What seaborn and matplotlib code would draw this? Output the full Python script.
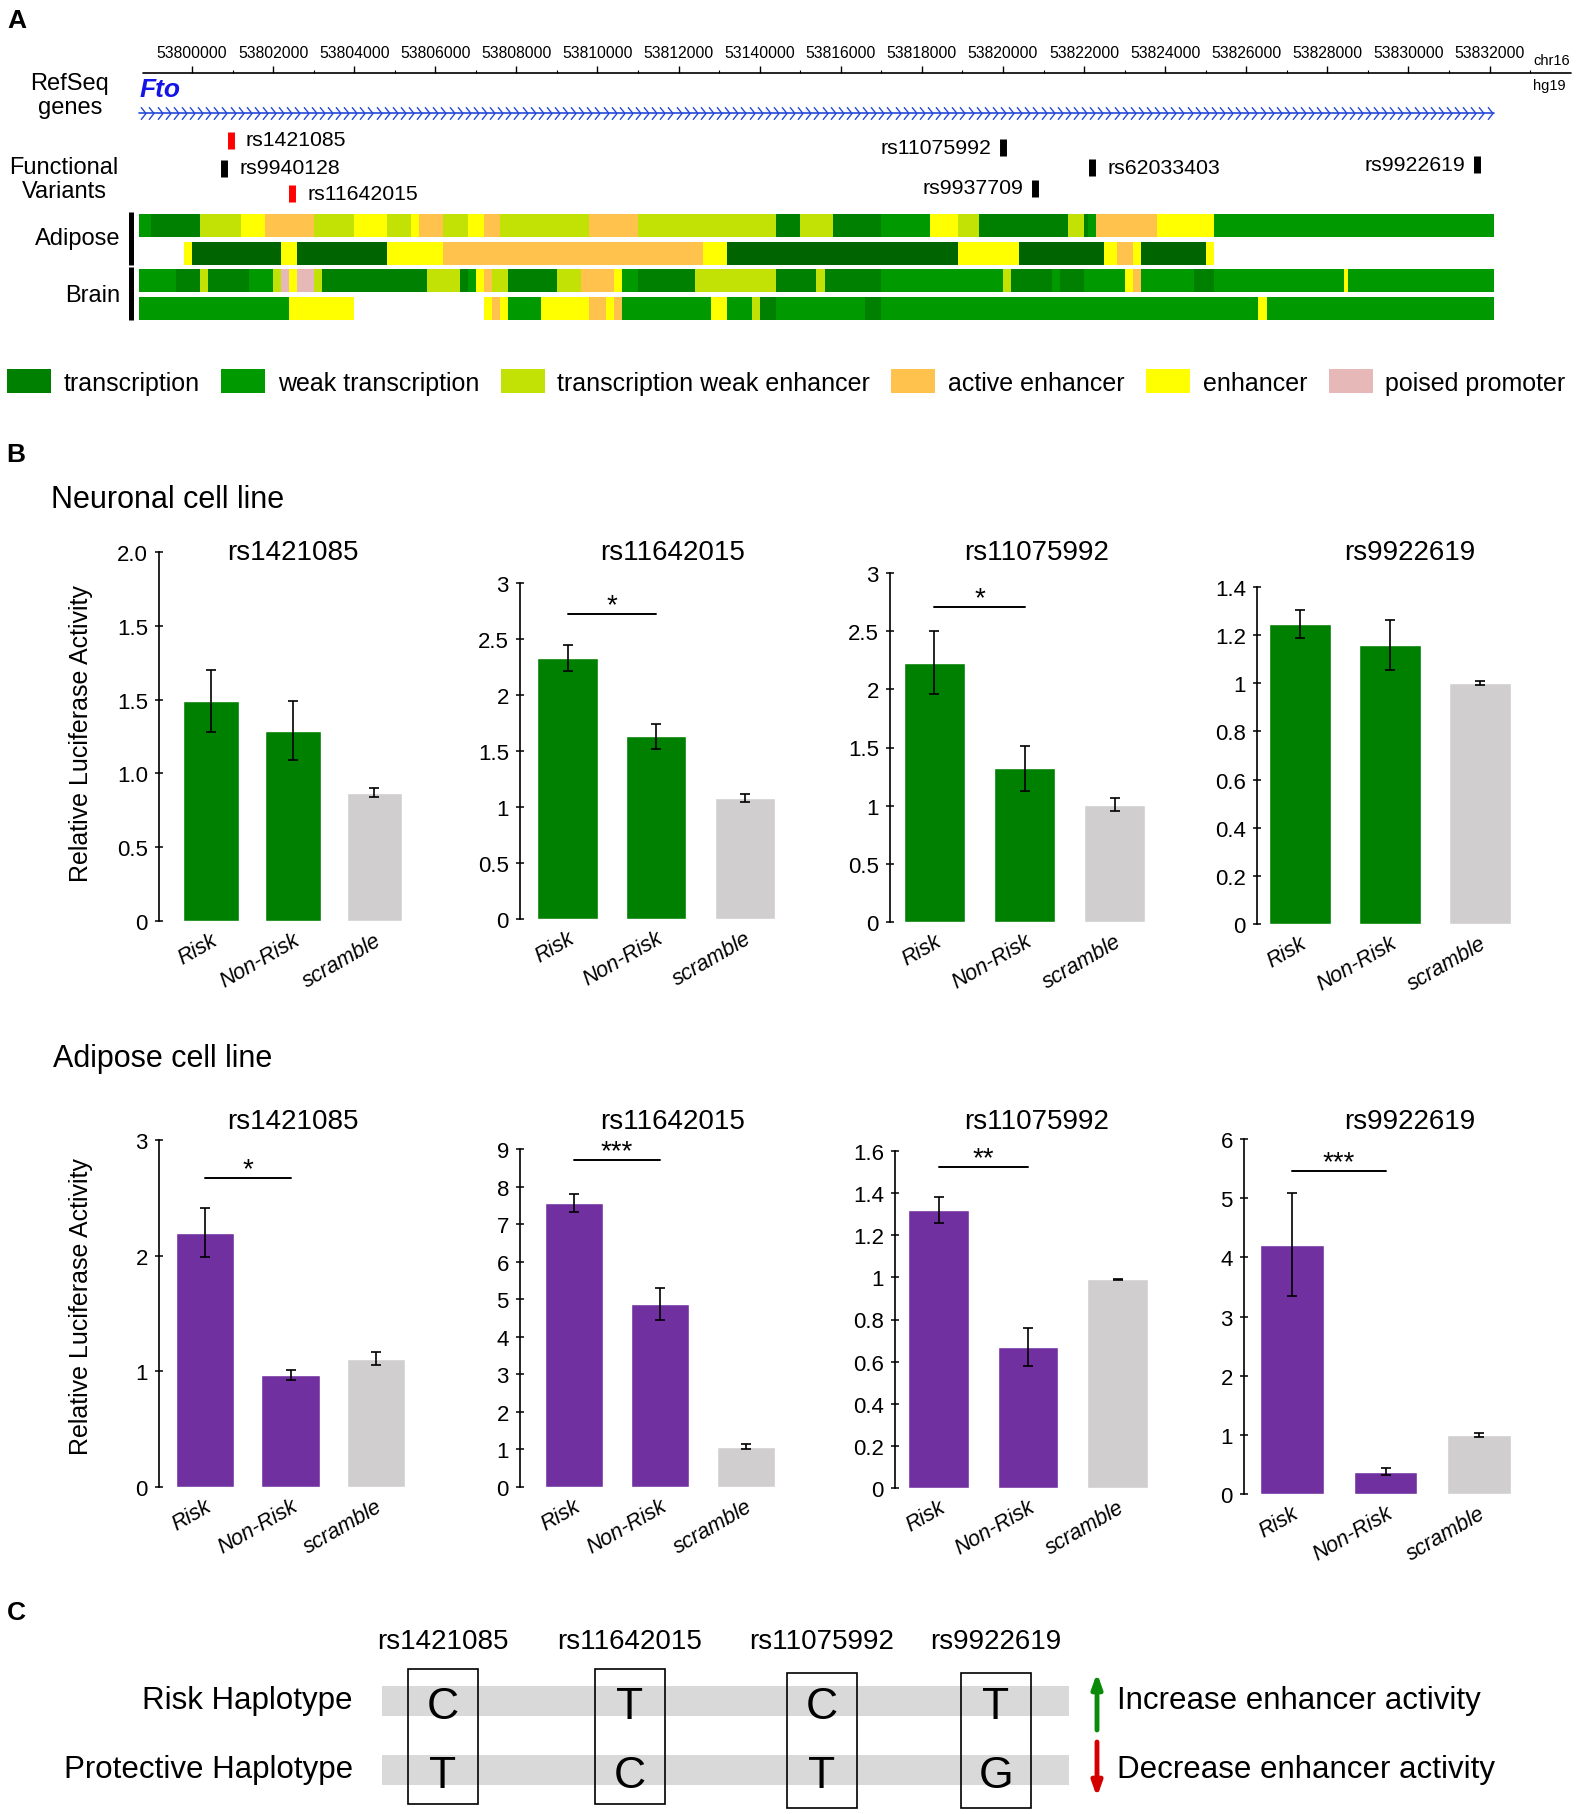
import numpy as np
import pandas as pd
import matplotlib
matplotlib.use("Agg")
import matplotlib.pyplot as plt
from matplotlib.patches import Patch, Rectangle
from matplotlib.path import Path
import seaborn as sns

W_PX, H_PX = 1593, 1815

# ---------------- Panel A data (positions in kb on chr16, hg19) ----------------
STATE_COLORS = {
    "T": "#008000",    # transcription
    "W": "#009900",    # weak transcription
    "TWE": "#C2E105",  # transcription weak enhancer
    "A": "#FFC34D",    # active enhancer
    "E": "#FFFF00",    # enhancer
    "P": "#E6B8B7",    # poised promoter
    "S": "#006400",    # strong transcription (darker shade in 2nd adipose track)
}
legend_states = ["T", "W", "TWE", "A", "E", "P"]
legend_labels = ["transcription", "weak transcription", "transcription weak enhancer",
                 "active enhancer", "enhancer", "poised promoter"]

ruler_major = list(range(53800, 53833, 2))
ruler_labels = ["53800000", "53802000", "53804000", "53806000", "53808000", "53810000",
                "53812000", "53140000", "53816000", "53818000", "53820000", "53822000",
                "53824000", "53826000", "53828000", "53830000", "53832000"]
ruler_minor = list(range(53801, 53834, 2))
ruler_span = [53798.8, 53834.0]
gene_span = [53798.7, 53832.1]

variant_names = ["rs1421085", "rs9940128", "rs11642015", "rs11075992",
                 "rs9937709", "rs62033403", "rs9922619"]
variant_pos = [53800.95, 53800.8, 53802.47, 53820.0, 53820.8, 53822.2, 53831.7]
variant_colors = ["#FF0000", "black", "#FF0000", "black", "black", "black", "black"]

adipose1_bounds = [53798.7, 53799.0, 53800.2, 53801.2, 53801.8, 53803.0, 53804.0, 53804.8,
                   53805.4, 53805.6, 53806.2, 53806.8, 53807.2, 53807.6, 53809.8, 53811.0,
                   53814.4, 53815.0, 53815.8, 53817.0, 53818.2, 53818.9, 53819.4, 53821.6,
                   53822.0, 53822.1, 53822.3, 53823.8, 53825.2, 53832.1]
adipose1_states = ["W", "T", "TWE", "E", "A", "TWE", "E", "TWE", "E", "A", "TWE", "E", "A",
                   "TWE", "A", "TWE", "T", "TWE", "T", "W", "E", "TWE", "T", "TWE", "T",
                   "W", "A", "E", "W"]

adipose2_bounds = [53799.8, 53800.0, 53802.2, 53802.6, 53804.8, 53806.2, 53812.6, 53813.2,
                   53818.9, 53820.4, 53822.5, 53822.8, 53823.2, 53823.4, 53825.0, 53825.2]
adipose2_states = ["E", "S", "E", "S", "E", "A", "E", "S", "E", "S", "E", "A", "E", "S", "E"]

brain1_bounds = [53798.7, 53799.6, 53800.2, 53800.4, 53801.4, 53802.0, 53802.2, 53802.4,
                 53802.6, 53803.0, 53803.2, 53805.8, 53806.6, 53806.8, 53807.0, 53807.2,
                 53807.4, 53807.8, 53809.0, 53809.6, 53810.4, 53810.6, 53811.0, 53812.4,
                 53814.4, 53815.4, 53815.6, 53817.0, 53820.0, 53820.2, 53821.2, 53821.4,
                 53822.0, 53823.0, 53823.2, 53823.4, 53824.7, 53825.2, 53828.4, 53828.5,
                 53832.1]
brain1_states = ["W", "T", "TWE", "T", "W", "TWE", "P", "E", "P", "TWE", "T", "TWE", "T", "W",
                 "E", "A", "TWE", "T", "TWE", "A", "E", "W", "T", "TWE", "T", "TWE", "T", "W",
                 "TWE", "T", "W", "T", "W", "E", "A", "W", "T", "W", "E", "W"]

brain2_bounds = [53798.7, 53802.4, 53804.0, 53807.2, 53807.4, 53807.6, 53807.8, 53808.6,
                 53809.8, 53810.2, 53810.4, 53810.6, 53812.8, 53813.2, 53813.8, 53814.0,
                 53814.4, 53816.6, 53817.0, 53826.3, 53826.5, 53832.1]
brain2_states = ["W", "E", None, "E", "A", "E", "W", "E", "A", "E", "A", "W", "E", "W",
                 "TWE", "T", "W", "T", "W", "E", "W"]

# ---------------- Panel B data ----------------
categories = ["Risk", "Non-Risk", "scramble"]
snps = ["rs1421085", "rs11642015", "rs11075992", "rs9922619"]

neuronal_mean = [[1.49, 1.29, 0.87], [2.33, 1.63, 1.08], [2.23, 1.32, 1.01], [1.245, 1.16, 1.0]]
neuronal_err = [[0.21, 0.20, 0.028], [0.12, 0.115, 0.035], [0.27, 0.19, 0.06], [0.058, 0.103, 0.009]]
neuronal_sig = [None, "*", "*", None]
neuronal_sig_y = [None, 2.72, 2.71, None]
neuronal_yticks = [[0, 0.5, 1, 1.5, 2, 2.5], [0, 0.5, 1, 1.5, 2, 2.5, 3],
                   [0, 0.5, 1, 1.5, 2, 2.5, 3], [0, 0.2, 0.4, 0.6, 0.8, 1, 1.2, 1.4]]
neuronal_yticklabels = [["0", "0.5", "1.0", "1.5", "1.5", "2.0"],
                        ["0", "0.5", "1", "1.5", "2", "2.5", "3"],
                        ["0", "0.5", "1", "1.5", "2", "2.5", "3"],
                        ["0", "0.2", "0.4", "0.6", "0.8", "1", "1.2", "1.4"]]

adipose_mean = [[2.2, 0.97, 1.11], [7.57, 4.88, 1.07], [1.32, 0.67, 0.99], [4.21, 0.38, 0.99]]
adipose_err = [[0.21, 0.042, 0.058], [0.235, 0.42, 0.07], [0.063, 0.089, 0.003], [0.87, 0.056, 0.034]]
adipose_sig = ["*", "***", "**", "***"]
adipose_sig_y = [2.67, 8.7, 1.526, 5.46]
adipose_yticks = [[0, 1, 2, 3], list(range(0, 10)),
                  [0, 0.2, 0.4, 0.6, 0.8, 1, 1.2, 1.4, 1.6], list(range(0, 7))]
adipose_yticklabels = [["0", "1", "2", "3"], [str(v) for v in range(0, 10)],
                       ["0", "0.2", "0.4", "0.6", "0.8", "1", "1.2", "1.4", "1.6"],
                       [str(v) for v in range(0, 7)]]

# ---------------- Panel C data ----------------
risk_alleles = ["C", "T", "C", "T"]
protective_alleles = ["T", "C", "T", "G"]

NEURON_GREEN = "#008000"
ADIPOSE_PURPLE = "#7030A0"
SCRAMBLE_GRAY = "#D0CECE"

sns.set_theme(style="white", rc={"text.color": "black", "axes.labelcolor": "black",
                                 "xtick.color": "black", "ytick.color": "black",
                                 "axes.edgecolor": "black"})
plt.rcParams["font.family"] = ["Liberation Sans", "DejaVu Sans"]


def fx(px):
    return px / W_PX


def fy(py):
    return 1 - py / H_PX


fig = plt.figure(figsize=(W_PX / 100, H_PX / 100), dpi=100)
fig.patch.set_facecolor("white")

# ---------------- Panel A: genome browser ----------------
PX_PER_KB = 40.55
KB0 = 53800 - 192 / PX_PER_KB
KB1 = KB0 + W_PX / PX_PER_KB
TOP_H = 340
axA = fig.add_axes([0, fy(TOP_H), 1, TOP_H / H_PX])
axA.set_xlim(KB0, KB1)
axA.set_ylim(TOP_H, 0)
axA.axis("off")

# ruler
axA.plot(ruler_span, [74, 74], color="black", lw=1.2)
axA.vlines(ruler_major, 67, 74, color="black", lw=1.0)
axA.vlines(ruler_minor, 70.5, 74, color="black", lw=0.8)
for pos, lab in zip(ruler_major, ruler_labels):
    axA.text(pos, 54, lab, ha="center", va="center", fontsize=11.3)

# gene model
gene_blue = "#2448D8"
axA.plot(gene_span, [114, 114], color=gene_blue, lw=1.2)
chevron = Path([(-0.4, 1), (0.4, 0), (-0.4, -1)], [Path.MOVETO, Path.LINETO, Path.LINETO])
chev_x = np.arange(gene_span[0] + 0.1, gene_span[1], 0.2)
axA.plot(chev_x, np.full(len(chev_x), 114), ls="none", marker=chevron, ms=9,
         mfc="none", mec=gene_blue, mew=1.0)
axA.text(gene_span[0], 90, "Fto", color="#1414E6", fontweight="bold", fontstyle="italic",
         fontsize=19, ha="left", va="center")

# functional variants
variant_y = [141, 169, 194.5, 148, 189, 168, 165.5]
variant_side = ["right", "right", "right", "left", "left", "right", "left"]
for name, pos, col, yv, side in zip(variant_names, variant_pos, variant_colors,
                                    variant_y, variant_side):
    axA.vlines(pos, yv - 8.5, yv + 8.5, color=col, lw=5)
    off = 11 if side == "right" else -8.5
    axA.annotate(name, (pos, yv), xytext=(off, 0), textcoords="offset points",
                 ha="left" if side == "right" else "right", va="center", fontsize=15.3)

# chromatin state tracks
tracks = [(adipose1_bounds, adipose1_states, 226.5), (adipose2_bounds, adipose2_states, 254),
          (brain1_bounds, brain1_states, 281.5), (brain2_bounds, brain2_states, 309)]
for bounds, states, yc in tracks:
    starts = np.array(bounds[:-1])
    ends = np.array(bounds[1:])
    keep = [s is not None for s in states]
    cols = [STATE_COLORS[s] for s in states if s is not None]
    axA.barh(np.full(sum(keep), yc), (ends - starts)[keep], left=starts[keep], height=23,
             color=cols, linewidth=0)

# overlay axes in pixel coordinates for labels and panel C
ov = fig.add_axes([0, 0, 1, 1])
ov.set_xlim(0, W_PX)
ov.set_ylim(H_PX, 0)
ov.axis("off")
ov.set_zorder(10)

for lab, (x, y) in zip(["A", "B", "C"], [(17, 21), (16, 455), (16, 1613)]):
    ov.text(x, y, lab, fontweight="bold", fontsize=19, ha="center", va="center")

ov.text(1552, 61, "chr16", ha="center", va="center", fontsize=10.5)
ov.text(1549, 86, "hg19", ha="center", va="center", fontsize=10.5)
ov.text(70, 96, "RefSeq\ngenes", ha="center", va="center", fontsize=17, linespacing=1.15)
ov.text(64, 180, "Functional\nVariants", ha="center", va="center", fontsize=17,
        linespacing=1.15)
ov.text(120, 239, "Adipose", ha="right", va="center", fontsize=17)
ov.text(120, 296, "Brain", ha="right", va="center", fontsize=17)
ov.vlines(131, 213, 266, color="black", lw=3.6)
ov.vlines(131, 268, 321, color="black", lw=3.6)

handles = [Patch(facecolor=STATE_COLORS[s], edgecolor="none") for s in legend_states]
fig.legend(handles, legend_labels, loc="center left", bbox_to_anchor=(fx(7), fy(383)),
           ncol=6, frameon=False, fontsize=18, handlelength=1.76, handleheight=1.04,
           handletextpad=0.5, columnspacing=0.86, borderpad=0, borderaxespad=0)

# ---------------- Panel B: luciferase bar charts ----------------
ov.text(51, 500, "Neuronal cell line", ha="left", va="center", fontsize=22)
ov.text(53, 1059, "Adipose cell line", ha="left", va="center", fontsize=22)
ov.text(81, 734, "Relative Luciferase Activity", rotation=90, ha="center", va="center",
        fontsize=18)
ov.text(81, 1307, "Relative Luciferase Activity", rotation=90, ha="center", va="center",
        fontsize=18)

title_x = [293, 672.6, 1037, 1410]
# (spine x, y of zero, y of axis top, bar spacing, first bar offset) in pixels
layout_neuronal = [(159, 922, 553, 81.75, 52), (520, 920, 584, 88.75, 47.5),
                   (890, 923, 574, 90, 44.5), (1257, 925, 588, 90, 43)]
layout_adipose = [(159, 1488, 1141, 85.5, 46), (520, 1488, 1150, 86, 54),
                  (895, 1489, 1152, 89.5, 43.5), (1244, 1495, 1140, 93.5, 48)]


def draw_panel(lay, means, errs, color, yticks, ylabels, sig, sig_y):
    left, y0, ytop, spacing, first = lay
    off = first / spacing
    width = (off + 2.5) * spacing
    ax = fig.add_axes([fx(left), fy(y0), width / W_PX, (y0 - ytop) / H_PX])
    df = pd.DataFrame({"condition": categories, "activity": means})
    sns.barplot(data=df, x="condition", y="activity", hue="condition",
                palette=[color, color, SCRAMBLE_GRAY], width=0.68, saturation=1,
                legend=False, errorbar=None, ax=ax)
    ax.errorbar(range(3), means, yerr=errs, fmt="none", ecolor="black", elinewidth=1.2,
                capsize=3.5, capthick=1.2, zorder=3)
    ax.set_xlim(-off, 2.5)
    ax.set_ylim(yticks[0], yticks[-1])
    ax.set_yticks(yticks)
    ax.set_yticklabels(ylabels, fontsize=16)
    ax.set_xticks([0, 1, 2])
    ax.set_xticklabels(categories, rotation=30, ha="right", rotation_mode="anchor",
                       fontstyle="italic", fontsize=15.5)
    ax.set_xlabel("")
    ax.set_ylabel("")
    ax.tick_params(axis="y", direction="inout", length=6, width=1.1, pad=5, left=True)
    ax.tick_params(axis="x", length=0, pad=6)
    sns.despine(ax=ax, bottom=True)
    ax.spines["left"].set_linewidth(1.2)
    ax.patch.set_alpha(0)
    if sig is not None:
        ax.plot([0, 1], [sig_y, sig_y], color="black", lw=1.4, clip_on=False)
        ax.annotate(sig, (0.5, sig_y), xytext=(0, -3), textcoords="offset points",
                    ha="center", va="bottom", fontsize=20, annotation_clip=False)
    return ax


for i in range(4):
    draw_panel(layout_neuronal[i], neuronal_mean[i], neuronal_err[i], NEURON_GREEN,
               neuronal_yticks[i], neuronal_yticklabels[i], neuronal_sig[i], neuronal_sig_y[i])
    ov.text(title_x[i], 553, snps[i], ha="center", va="center", fontsize=20)
    draw_panel(layout_adipose[i], adipose_mean[i], adipose_err[i], ADIPOSE_PURPLE,
               adipose_yticks[i], adipose_yticklabels[i], adipose_sig[i], adipose_sig_y[i])
    ov.text(title_x[i], 1122, snps[i], ha="center", va="center", fontsize=20)

# ---------------- Panel C: haplotypes ----------------
col_x = [443, 630, 822, 996]
box_top = [1670, 1670, 1674, 1674]
for yb in (1687, 1756):
    ov.add_patch(Rectangle((382, yb), 686.5, 30, facecolor="#D9D9D9", edgecolor="none"))
for i, snp in enumerate(snps):
    x = col_x[i]
    ov.text(x, 1642, snp, ha="center", va="center", fontsize=20)
    ov.add_patch(Rectangle((x - 35, box_top[i]), 70, 135, fill=False, edgecolor="black",
                           lw=1.2))
    ov.text(x, 1719, risk_alleles[i], ha="center", va="baseline", fontsize=32)
    ov.text(x, 1788, protective_alleles[i], ha="center", va="baseline", fontsize=32)

ov.text(353, 1701, "Risk Haplotype", ha="right", va="center", fontsize=22.5)
ov.text(353, 1770, "Protective Haplotype", ha="right", va="center", fontsize=22.5)
ov.annotate("", xy=(1097, 1674), xytext=(1097, 1731),
            arrowprops=dict(arrowstyle="-|>,head_width=0.25,head_length=0.7", lw=3.5,
                            color="#0A8A0A", shrinkA=0, shrinkB=0), zorder=11)
ov.annotate("", xy=(1097, 1798), xytext=(1097, 1743),
            arrowprops=dict(arrowstyle="-|>,head_width=0.25,head_length=0.7", lw=3.5,
                            color="#D40000", shrinkA=0, shrinkB=0), zorder=11)
ov.text(1117, 1701, "Increase enhancer activity", ha="left", va="center", fontsize=22.5)
ov.text(1117, 1770, "Decrease enhancer activity", ha="left", va="center", fontsize=22.5)

fig.savefig("out.png", dpi=100, facecolor="white")
